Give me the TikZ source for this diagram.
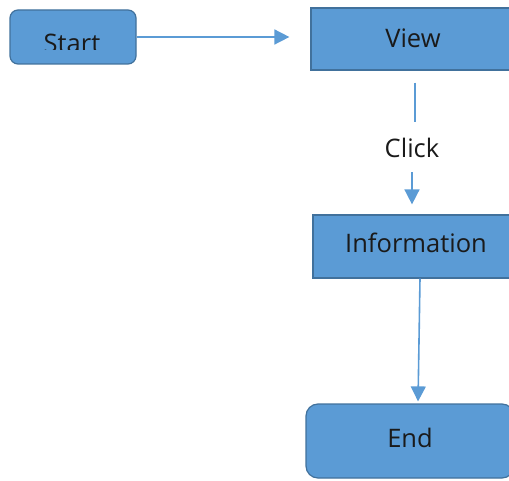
\documentclass[tikz,border=0pt]{standalone}
\usepackage{fontspec}
\setmainfont{Open Sans}
\usetikzlibrary{arrows.meta}
\definecolor{boxfill}{HTML}{5B9BD5}
\definecolor{boxline}{HTML}{41719C}
\definecolor{txt}{HTML}{1A1A1A}
\begin{document}
\begin{tikzpicture}[x=1pt,y=-1pt,
  box/.style={draw=boxline,line width=1.2pt,fill=boxfill,inner sep=0pt},
  lbl/.style={font=\fontsize{25.5}{30}\selectfont,text=txt,inner sep=0pt},
  conn/.style={draw=boxfill,line width=1.6pt,-{Triangle[length=15pt,width=15pt]}}]
\useasboundingbox (0,0) rectangle (509,481);
\begin{scope}
\clip (0,0) rectangle (509,481);
\node[box,rounded corners=8pt,minimum width=126pt,minimum height=54pt] (start) at (73,37) {};
\node[box,minimum width=204pt,minimum height=62pt] (view) at (413,39) {};
\node[box,minimum width=204pt,minimum height=63pt] (info) at (415,246.5) {};
\node[box,rounded corners=12pt,minimum width=208pt,minimum height=74pt] (end) at (410,441) {};
\begin{scope}
\clip (0,0) rectangle (200,50);
\node[lbl] (starttxt) at (72,43) {Start};
\end{scope}
\node[lbl] (viewtxt) at (413,38) {View};
\node[lbl] (infotxt) at (416,243) {Information};
\node[lbl] (endtxt) at (410,438) {End};
\node[lbl] (click) at (412,148) {Click};
\end{scope}
\draw[conn,shorten >=21pt] (start.east) -- (view.west |- start.east);
\draw[draw=boxfill,line width=1.6pt,shorten <=12pt,shorten >=16pt] ([xshift=2pt]view.south) -- ([xshift=3pt]click.north);
\draw[conn,shorten <=14pt,shorten >=10pt] (click.south) -- (click.south |- info.north);
\draw[conn,shorten >=2pt] ([xshift=5pt]info.south) -- ([xshift=8pt]end.north);
\end{tikzpicture}
\end{document}
